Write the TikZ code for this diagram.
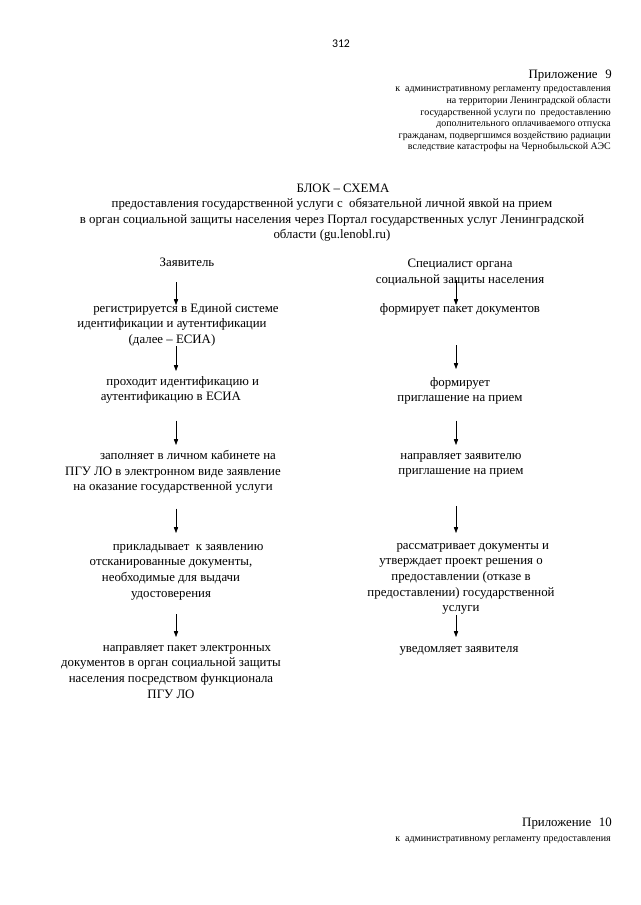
\documentclass[tikz,border=0pt]{standalone}
\usepackage{fontspec}
\setmainfont{Liberation Serif}
\newfontfamily\pagefont{Carlito}
\usetikzlibrary{arrows.meta,positioning,calc}

\begin{document}
\begin{tikzpicture}[x=0.0328125cm,y=-0.0328125cm,
    txt/.style={font=\fontsize{12}{14.6}\selectfont,align=center,inner sep=0pt,anchor=north,
      execute at begin node=\strut,execute at end node=\strut},
    note/.style={font=\fontsize{9.3}{10.8}\selectfont,align=right,inner sep=0pt,anchor=north east,
      execute at begin node=\strut},
    arr/.style={-{Triangle[length=5.5pt,width=4pt]},line width=0.6pt}]
  \useasboundingbox (0,0) rectangle (640,905);
  \fill[white] (0,0) rectangle (640,905);

  % page number and header
  \node[font=\pagefont\fontsize{11}{13}\selectfont,inner sep=0pt] (pg) at (341,44) {312};
  \node[txt,anchor=north east] (pr9) at (612,67) {Приложение\hspace{0.6em}9};
  \node[note] (pr9t) at (611,87) {к~ административному регламенту предоставления\\
    на территории Ленинградской области\\
    государственной услуги по~ предоставлению\\
    дополнительного оплачиваемого отпуска\\
    гражданам, подвергшимся воздействию радиации\\
    вследствие катастрофы на Чернобыльской АЭС};

  % title
  \node[txt] (ttl) at (343,181) {БЛОК – СХЕМА};
  \node[txt] (sub) at (332,198) {предоставления государственной услуги с~ обязательной личной явкой на прием\\
    в орган социальной защиты населения через Портал государственных услуг Ленинградской\\
    области (gu.lenobl.ru)};

  \coordinate (colL) at (176,0);
  \coordinate (colR) at (456,0);

  % left column
  \node[txt] (zv) at (187,255) {Заявитель};
  \node[txt] (reg) at (172,303) {\hspace*{26pt}регистрируется в Единой системе\\
    идентификации и аутентификации\\ (далее – ЕСИА)};
  \node[txt] (pid) at (171,376) {\hspace*{22pt}проходит идентификацию и\\ аутентификацию в ЕСИА};
  \node[txt] (zap) at (173,450) {\hspace*{28pt}заполняет в личном кабинете на\\
    ПГУ ЛО в электронном виде заявление\\ на оказание государственной услуги};
  \node[txt] (prik) at (171,544) {\hspace*{32pt}прикладывает~ к заявлению\\
    отсканированные документы,\\ необходимые для выдачи\\ удостоверения};
  \node[txt] (napr) at (171,645) {\hspace*{30pt}направляет пакет электронных\\
    документов в орган социальной защиты\\ населения посредством функционала\\ ПГУ ЛО};

  % right column
  \node[txt] (spec) at (460,259) {Специалист органа\\ социальной защиты населения};
  \node[txt] (fpk) at (460,301) {формирует пакет документов};
  \node[txt] (fpr) at (460,377) {формирует\\ приглашение на прием};
  \node[txt] (nz) at (461,453) {направляет заявителю\\ приглашение на прием};
  \node[txt] (rd) at (461,543) {\hspace*{22pt}рассматривает документы и\\
    утверждает проект решения о\\ предоставлении (отказе в\\
    предоставлении) государственной\\ услуги};
  \node[txt] (uv) at (459,641) {уведомляет заявителя};

  % arrows
  \draw[arr] ($(zv.south -| colL)+(0,11)$) -- ($(reg.north -| colL)+(0,2)$);
  \draw[arr] ($(reg.south -| colL)+(0,-2)$) -- ($(pid.north -| colL)+(0,-5)$);
  \draw[arr] ($(pid.south -| colL)+(0,15)$) -- ($(zap.north -| colL)+(0,-5)$);
  \draw[arr] ($(zap.south -| colL)+(0,13)$) -- ($(prik.north -| colL)+(0,-11)$);
  \draw[arr] ($(prik.south -| colL)+(0,12)$) -- ($(napr.north -| colL)+(0,-8)$);
  \draw[arr] ($(spec.south -| colR)+(0,-8)$) -- ($(fpk.north -| colR)+(0,4)$);
  \draw[arr] ($(fpk.south -| colR)+(0,28)$) -- ($(fpr.north -| colR)+(0,-8)$);
  \draw[arr] ($(fpr.south -| colR)+(0,14)$) -- ($(nz.north -| colR)+(0,-8)$);
  \draw[arr] ($(nz.south -| colR)+(0,26)$) -- ($(rd.north -| colR)+(0,-10)$);
  \draw[arr] ($(rd.south -| colR)+(0,-2)$) -- ($(uv.north -| colR)+(0,-4)$);

  % next page header
  \node[txt,anchor=north east] (pr10) at (612,815) {Приложение\hspace{0.6em}10};
  \node[note] (pr10t) at (611,833) {к~ административному регламенту предоставления};
\end{tikzpicture}
\end{document}
